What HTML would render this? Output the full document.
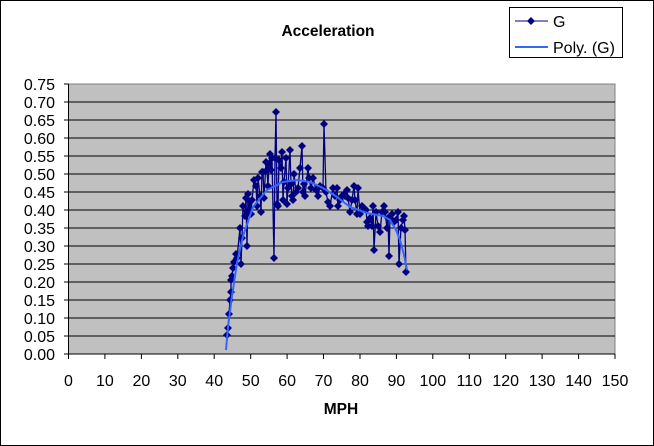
<!DOCTYPE html>
<html><head><meta charset="utf-8"><style>
html,body{margin:0;padding:0;background:#fff}
svg{display:block;font-family:"Liberation Sans",Arial,sans-serif}
</style></head><body>
<svg width="654" height="446" viewBox="0 0 654 446" xmlns="http://www.w3.org/2000/svg">
<rect x="0.5" y="0.5" width="653" height="445" fill="#fff" stroke="#000" stroke-width="1"/>
<text x="328" y="36" font-size="15.5" font-weight="bold" text-anchor="middle">Acceleration</text>
<rect x="68.5" y="84" width="546.5" height="270" fill="#c0c0c0" stroke="#808080" stroke-width="1"/>
<g stroke="#000" stroke-width="1">
<line x1="68.5" y1="102" x2="615" y2="102"/><line x1="68.5" y1="120" x2="615" y2="120"/>
<line x1="68.5" y1="138" x2="615" y2="138"/><line x1="68.5" y1="156" x2="615" y2="156"/>
<line x1="68.5" y1="174" x2="615" y2="174"/><line x1="68.5" y1="192" x2="615" y2="192"/>
<line x1="68.5" y1="210" x2="615" y2="210"/><line x1="68.5" y1="228" x2="615" y2="228"/>
<line x1="68.5" y1="246" x2="615" y2="246"/><line x1="68.5" y1="264" x2="615" y2="264"/>
<line x1="68.5" y1="282" x2="615" y2="282"/><line x1="68.5" y1="300" x2="615" y2="300"/>
<line x1="68.5" y1="318" x2="615" y2="318"/><line x1="68.5" y1="336" x2="615" y2="336"/>
<line x1="68.5" y1="84" x2="68.5" y2="354"/>
<line x1="64" y1="354" x2="615" y2="354"/>
</g>
<g stroke="#000" stroke-width="1">
<line x1="64" y1="84" x2="68.5" y2="84"/><line x1="64" y1="102" x2="68.5" y2="102"/><line x1="64" y1="120" x2="68.5" y2="120"/><line x1="64" y1="138" x2="68.5" y2="138"/><line x1="64" y1="156" x2="68.5" y2="156"/><line x1="64" y1="174" x2="68.5" y2="174"/><line x1="64" y1="192" x2="68.5" y2="192"/><line x1="64" y1="210" x2="68.5" y2="210"/><line x1="64" y1="228" x2="68.5" y2="228"/><line x1="64" y1="246" x2="68.5" y2="246"/><line x1="64" y1="264" x2="68.5" y2="264"/><line x1="64" y1="282" x2="68.5" y2="282"/><line x1="64" y1="300" x2="68.5" y2="300"/><line x1="64" y1="318" x2="68.5" y2="318"/><line x1="64" y1="336" x2="68.5" y2="336"/>
</g>
<g font-size="16" text-anchor="end">
<text x="55" y="90">0.75</text><text x="55" y="108">0.70</text><text x="55" y="126">0.65</text><text x="55" y="144">0.60</text><text x="55" y="162">0.55</text><text x="55" y="180">0.50</text><text x="55" y="198">0.45</text><text x="55" y="216">0.40</text><text x="55" y="234">0.35</text><text x="55" y="252">0.30</text><text x="55" y="270">0.25</text><text x="55" y="288">0.20</text><text x="55" y="306">0.15</text><text x="55" y="324">0.10</text><text x="55" y="342">0.05</text><text x="55" y="360">0.00</text>
</g>
<g stroke="#000" stroke-width="1">
<line x1="68.5" y1="354" x2="68.5" y2="359"/><line x1="104.9" y1="354" x2="104.9" y2="359"/><line x1="141.4" y1="354" x2="141.4" y2="359"/><line x1="177.8" y1="354" x2="177.8" y2="359"/><line x1="214.2" y1="354" x2="214.2" y2="359"/><line x1="250.7" y1="354" x2="250.7" y2="359"/><line x1="287.1" y1="354" x2="287.1" y2="359"/><line x1="323.5" y1="354" x2="323.5" y2="359"/><line x1="360" y1="354" x2="360" y2="359"/><line x1="396.4" y1="354" x2="396.4" y2="359"/><line x1="432.8" y1="354" x2="432.8" y2="359"/><line x1="469.3" y1="354" x2="469.3" y2="359"/><line x1="505.7" y1="354" x2="505.7" y2="359"/><line x1="542.1" y1="354" x2="542.1" y2="359"/><line x1="578.6" y1="354" x2="578.6" y2="359"/><line x1="615" y1="354" x2="615" y2="359"/>
</g>
<g font-size="16" text-anchor="middle">
<text x="68.5" y="386">0</text><text x="104.9" y="386">10</text><text x="141.4" y="386">20</text><text x="177.8" y="386">30</text><text x="214.2" y="386">40</text><text x="250.7" y="386">50</text><text x="287.1" y="386">60</text><text x="323.5" y="386">70</text><text x="360" y="386">80</text><text x="396.4" y="386">90</text><text x="432.8" y="386">100</text><text x="469.3" y="386">110</text><text x="505.7" y="386">120</text><text x="542.1" y="386">130</text><text x="578.6" y="386">140</text><text x="615" y="386">150</text>
</g>
<text x="341" y="414" font-size="15.5" font-weight="bold" text-anchor="middle">MPH</text>
<g id="series"></g>
<polyline fill="none" stroke="#3366ff" stroke-width="2" points="226,350 228,327 232,296 237,263 243,236 253,207 267,190 283,182 297,180 310,182 323,188 337,197 350,207 367,213 383,216 390,220 396,230 400,240 404,255 407,270"/>
<rect x="509.5" y="7.5" width="113" height="50" fill="#fff" stroke="#000"/>
<line x1="515" y1="21" x2="548" y2="21" stroke="#000080" stroke-width="1"/>
<path d="M531,17 l4,4 l-4,4 l-4,-4 Z" fill="#000080"/>
<text x="553" y="27" font-size="16">G</text>
<line x1="515" y1="47" x2="548" y2="47" stroke="#3366ff" stroke-width="2"/>
<text x="553" y="53" font-size="16">Poly. (G)</text>
<script>
var p=[[227,335],[228,328],[229,314],[230,300],[231,292],[231,280],[232,276],[233,268],[234,262],[236,254],[237,258],[240,228],[241,264],[242,238],[243,206],[245,216],[246,198],[247,246],[248,194],[249,210],[250,202],[251,214],[252,200],[254,180],[256,186],[257,206],[258,178],[260,196],[261,212],[262,172],[263,172],[264,198],[266,162],[267,170],[268,186],[269,164],[270,154],[271,170],[272,158],[274,258],[275,158],[276,112],[277,204],[278,206],[279,160],[281,168],[282,152],[283,200],[284,182],[286,158],[287,204],[288,188],[290,150],[291,184],[292,196],[293,200],[294,174],[296,192],[298,188],[300,168],[302,146],[303,192],[304,184],[305,196],[308,168],[309,178],[311,188],[313,178],[316,190],[318,196],[320,186],[323,188],[324,124],[326,192],[328,202],[330,206],[333,188],[335,196],[337,188],[338,206],[340,200],[342,196],[344,194],[345,196],[347,190],[348,198],[350,212],[352,200],[354,186],[355,200],[357,214],[358,188],[360,214],[362,206],[364,208],[366,210],[367,222],[368,226],[370,218],[372,226],[373,206],[374,250],[376,212],[378,226],[380,232],[382,212],[384,206],[385,212],[387,228],[388,218],[389,256],[390,218],[392,214],[394,222],[396,220],[398,212],[399,264],[401,228],[403,220],[404,216],[405,230],[406,272]];
var ns="http://www.w3.org/2000/svg",g=document.getElementById("series");
var pl=document.createElementNS(ns,"polyline");
pl.setAttribute("points",p.map(function(a){return a.join(",")}).join(" "));
pl.setAttribute("fill","none");pl.setAttribute("stroke","#000080");pl.setAttribute("stroke-width","1.3");
g.appendChild(pl);
p.forEach(function(a){var u=document.createElementNS(ns,"path");u.setAttribute("d","M"+a[0]+","+(a[1]-4)+" l4,4 l-4,4 l-4,-4 Z");u.setAttribute("fill","#000080");g.appendChild(u);});
</script>
</svg>
</body></html>
